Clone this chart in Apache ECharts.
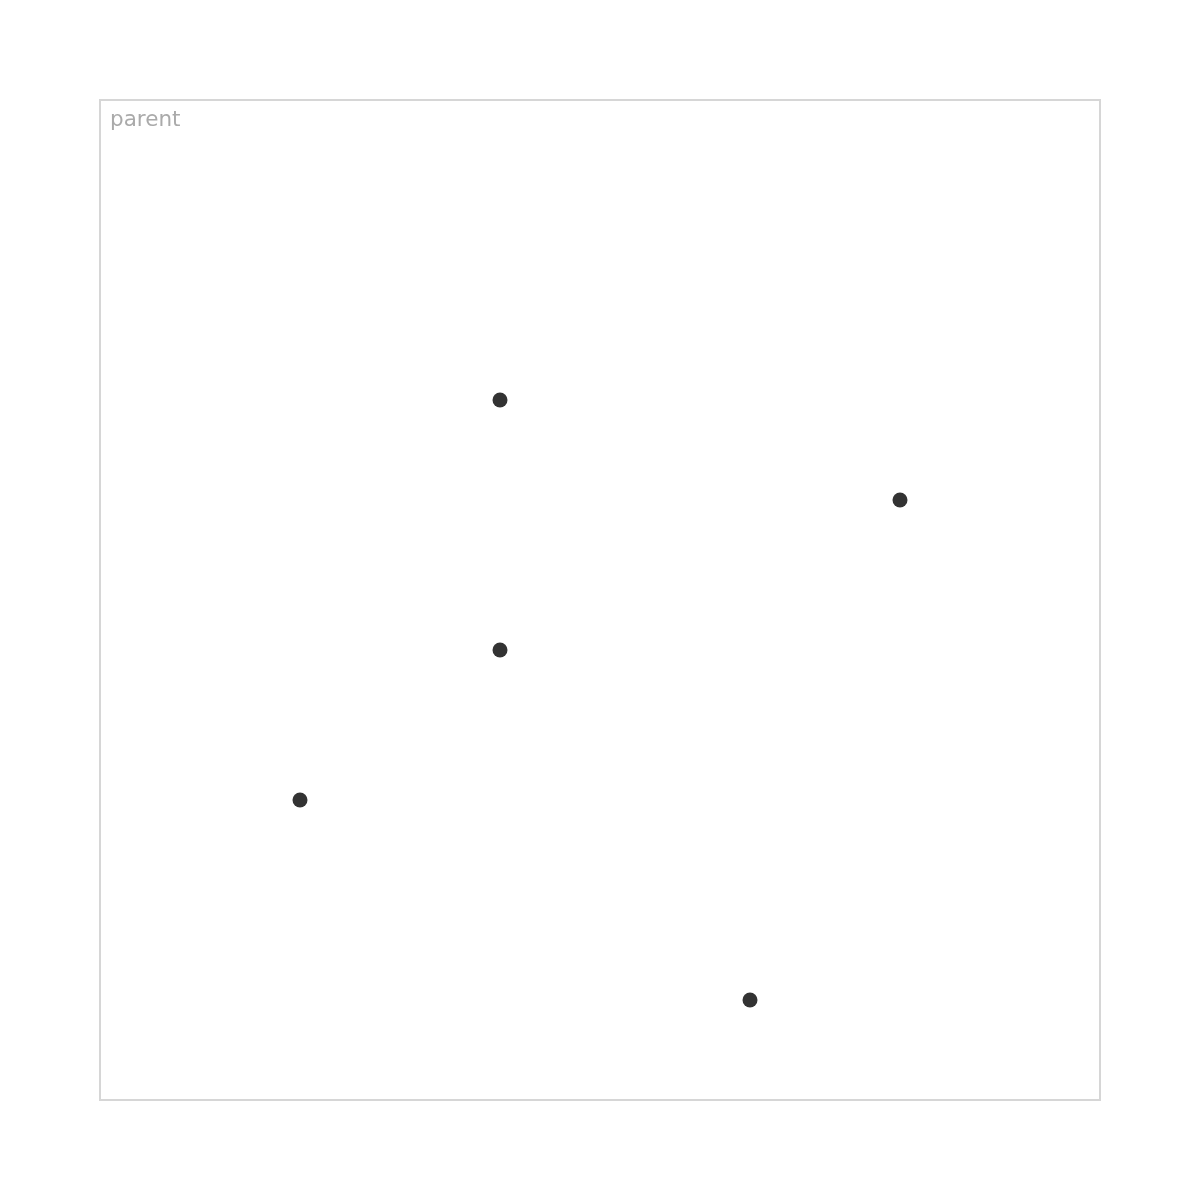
<!DOCTYPE html>
<html>
<head>
<meta charset="utf-8">
<script src="https://cdn.jsdelivr.net/npm/echarts@6/dist/echarts.min.js"></script>
<style>html,body{margin:0;padding:0;background:#fff;}#c{width:1199px;height:1200px;}</style>
</head>
<body>
<div id="c"></div>
<script>
const groupLabel = 'parent';
const xValues = [400, 800, 400, 200, 650];
const yValues = [300, 400, 550, 700, 900];
const axisMin = 0;
const axisMax = 1000;

const points = xValues.map((x, i) => [x, yValues[i]]);
const chart = echarts.init(document.getElementById('c'), null, {renderer: 'canvas'});
chart.setOption({
  animation: false,
  backgroundColor: '#ffffff',
  title: {
    text: groupLabel,
    left: 110,
    top: 109,
    padding: 0,
    textStyle: {fontFamily: 'DejaVu Sans', fontSize: 21.5, fontWeight: 'normal', color: '#aaaaaa'}
  },
  grid: {
    left: 100, top: 100, width: 1000, height: 1000,
    show: true, borderColor: '#d6d6d6', borderWidth: 2, backgroundColor: 'transparent'
  },
  xAxis: {type: 'value', min: axisMin, max: axisMax, show: false},
  yAxis: {type: 'value', min: axisMin, max: axisMax, inverse: true, show: false},
  series: [{
    type: 'scatter',
    data: points,
    symbolSize: 15,
    itemStyle: {color: '#333333', opacity: 1}
  }]
});
</script>
</body>
</html>
